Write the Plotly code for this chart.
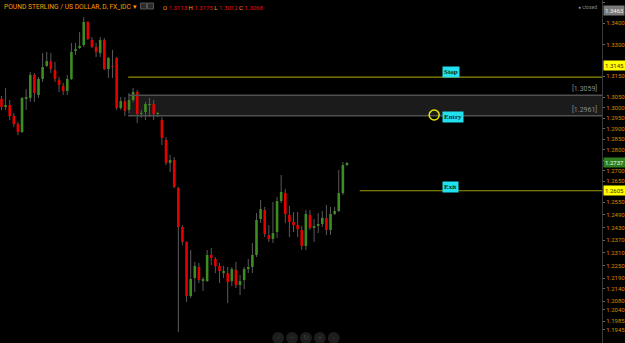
import plotly.graph_objects as go

# ---------------- data ----------------
opens = [1.3041,1.3003,1.3012,1.2960,1.2922,1.2884,1.3041,1.3046,1.3155,1.3060,
 1.3136,1.3198,1.3221,1.3179,1.3131,1.3103,1.3079,1.3136,1.3269,1.3283,
 1.3297,1.3407,1.3321,1.3288,1.3259,1.3321,1.3183,1.3198,1.3236,1.2998,
 1.3031,1.2989,1.3036,1.3074,1.2970,1.2979,1.3012,1.3017,1.2970,1.2941,
 1.2846,1.2737,1.2751,1.2618,1.2433,1.2362,1.2105,1.2191,1.2243,1.2176,
 1.2176,1.2300,1.2281,1.2248,1.2214,1.2214,1.2176,1.2229,1.2157,1.2181,
 1.2233,1.2243,1.2300,1.2471,1.2514,1.2395,1.2376,1.2409,1.2556,1.2594,
 1.2490,1.2457,1.2442,1.2419,1.2343,1.2490,1.2428,1.2438,1.2447,1.2476,
 1.2419,1.2495,1.2509,1.2594,1.2727]
highs = [1.3055,1.3093,1.3036,1.2974,1.2932,1.3050,1.3088,1.3169,1.3164,1.3145,
 1.3259,1.3264,1.3259,1.3217,1.3145,1.3117,1.3155,1.3307,1.3307,1.3359,
 1.3430,1.3410,1.3335,1.3307,1.3335,1.3331,1.3240,1.3274,1.3240,1.3050,
 1.3050,1.3069,1.3093,1.3084,1.2989,1.3027,1.3046,1.3036,1.2979,1.2955,
 1.2860,1.2775,1.2765,1.2623,1.2442,1.2365,1.2324,1.2267,1.2262,1.2195,
 1.2324,1.2333,1.2290,1.2262,1.2248,1.2243,1.2243,1.2267,1.2205,1.2243,
 1.2281,1.2357,1.2499,1.2561,1.2528,1.2442,1.2552,1.2575,1.2680,1.2613,
 1.2533,1.2504,1.2504,1.2438,1.2514,1.2514,1.2471,1.2499,1.2509,1.2537,
 1.2528,1.2528,1.2704,1.2742,1.2742]
lows = [1.2989,1.2989,1.2941,1.2908,1.2870,1.2879,1.2989,1.3027,1.3027,1.3046,
 1.3122,1.3193,1.3164,1.3122,1.3074,1.3060,1.3060,1.3131,1.3250,1.3278,
 1.3288,1.3321,1.3283,1.3240,1.3240,1.3179,1.3141,1.3141,1.2989,1.2989,
 1.2960,1.2974,1.3027,1.2927,1.2951,1.2941,1.2955,1.2941,1.2955,1.2822,
 1.2727,1.2694,1.2618,1.1934,1.2347,1.2077,1.2096,1.2124,1.2167,1.2129,
 1.2172,1.2252,1.2214,1.2167,1.2191,1.2072,1.2153,1.2143,1.2110,1.2138,
 1.2214,1.2214,1.2290,1.2452,1.2385,1.2362,1.2357,1.2381,1.2547,1.2452,
 1.2385,1.2409,1.2385,1.2324,1.2324,1.2419,1.2362,1.2404,1.2433,1.2395,
 1.2395,1.2490,1.2504,1.2585,1.2723]
closes = [1.3003,1.3012,1.2960,1.2922,1.2884,1.3046,1.3050,1.3155,1.3069,1.3136,
 1.3193,1.3221,1.3183,1.3136,1.3107,1.3079,1.3136,1.3264,1.3278,1.3293,
 1.3407,1.3326,1.3288,1.3264,1.3321,1.3183,1.3236,1.3193,1.2998,1.3031,
 1.2984,1.3036,1.3074,1.2970,1.2974,1.3017,1.3017,1.2970,1.2974,1.2856,
 1.2737,1.2751,1.2623,1.2433,1.2362,1.2105,1.2186,1.2248,1.2181,1.2186,
 1.2300,1.2286,1.2248,1.2224,1.2224,1.2172,1.2233,1.2157,1.2176,1.2233,
 1.2243,1.2300,1.2466,1.2518,1.2400,1.2376,1.2404,1.2556,1.2599,1.2495,
 1.2457,1.2442,1.2423,1.2343,1.2495,1.2428,1.2438,1.2447,1.2476,1.2419,
 1.2495,1.2509,1.2594,1.2727,1.2737]

tick_labels = ["1.3500","1.3400","1.3300","1.3150","1.3050","1.3000","1.2950",
               "1.2900","1.2850","1.2800","1.2750","1.2700","1.2650","1.2550",
               "1.2490","1.2430","1.2370","1.2310","1.2250","1.2190","1.2140",
               "1.2080","1.2040","1.1985","1.1945"]

stop_level = 1.3145
zone_top = 1.3059
zone_bottom = 1.2961
exit_level = 1.2605
last_price = 1.2737
level_start = 30.8      # candle index where stop / entry zone start
exit_start = 87.1       # candle index where exit line starts
label_x = 107.1
entry_marker = (105.2, 1.2965)

title = "POUND STERLING / US DOLLAR, D, FX_IDC \u25BE"
ohlc = [("O", "1.3113"), ("H", "1.3175"), ("L", "1.3012"), ("C", "1.3068")]

# ---------------- figure ----------------
n = len(opens)
xs = list(range(n))
X_RANGE = [-0.36, 146.0]
Y_RANGE = [1.1882, 1.3511]

GREEN = "#3d8c22"
RED = "#e60000"
OLIVE = "#8f8f00"
MIN_BODY = 0.0005

wx, wy = [], []
gx, gy, rx, ry = [], [], [], []
for i in xs:
    o, h, l, c = opens[i], highs[i], lows[i], closes[i]
    wx += [i, i, None]
    wy += [l, h, None]
    lo, hi = min(o, c), max(o, c)
    if hi - lo < MIN_BODY:
        mid = (hi + lo) / 2
        lo, hi = mid - MIN_BODY / 2, mid + MIN_BODY / 2
    if c >= o:
        gx += [i, i, None]; gy += [lo, hi, None]
    else:
        rx += [i, i, None]; ry += [lo, hi, None]

fig = go.Figure()
fig.add_trace(go.Scatter(x=wx, y=wy, mode="lines", line=dict(color="#5a5a5a", width=1),
                         hoverinfo="skip", showlegend=False))
fig.add_trace(go.Scatter(x=gx, y=gy, mode="lines", line=dict(color=GREEN, width=2.6),
                         hoverinfo="skip", showlegend=False))
fig.add_trace(go.Scatter(x=rx, y=ry, mode="lines", line=dict(color=RED, width=2.6),
                         hoverinfo="skip", showlegend=False))

shapes = []
# entry zone
shapes.append(dict(type="rect", xref="x", yref="y", x0=level_start, x1=X_RANGE[1],
                   y0=zone_bottom, y1=zone_top, fillcolor="#1b1b1b",
                   line=dict(width=0), layer="below"))
for lv in (zone_top, zone_bottom):
    shapes.append(dict(type="line", xref="x", yref="y", x0=level_start, x1=X_RANGE[1],
                       y0=lv, y1=lv, line=dict(color="#505050", width=1.5)))
# stop / exit lines
shapes.append(dict(type="line", xref="x", yref="y", x0=level_start, x1=X_RANGE[1],
                   y0=stop_level, y1=stop_level, line=dict(color=OLIVE, width=1.2)))
shapes.append(dict(type="line", xref="x", yref="y", x0=exit_start, x1=X_RANGE[1],
                   y0=exit_level, y1=exit_level, line=dict(color="#9a9a10", width=1.2)))
# entry circle
shapes.append(dict(type="circle", xref="x", yref="y", xsizemode="pixel", ysizemode="pixel",
                   xanchor=entry_marker[0], yanchor=entry_marker[1],
                   x0=-5, x1=5, y0=-5, y1=5, line=dict(color="#e6e600", width=1.5)))
# navigation buttons at bottom
nav_glyphs = ["\u2039", "\u2212", "\u21BB", "+", "\u203A"]
nav_px = [280, 294, 308, 322, 336]
for px in nav_px:
    shapes.append(dict(type="circle", xref="paper", yref="paper", xsizemode="pixel",
                       ysizemode="pixel", xanchor=px / 606, yanchor=(343 - 338) / 343,
                       x0=-6, x1=6, y0=-6, y1=6, fillcolor="#1d1d1d",
                       line=dict(width=0)))
# small icons in the title bar
for px in (144.5, 151.5):
    shapes.append(dict(type="rect", xref="paper", yref="paper", xsizemode="pixel",
                       ysizemode="pixel", xanchor=px / 606, yanchor=(343 - 6) / 343,
                       x0=-3, x1=3, y0=-3, y1=3, fillcolor="#2a2a2a",
                       line=dict(color="#555555", width=1)))

ann = []
lab_font = dict(family="Liberation Serif, DejaVu Serif", size=7, color="#062a2a")
for txt, yv in (("<b>Stop</b>", 1.3169), ("<b>Entry</b>", 1.2955), ("<b>Exit</b>", 1.2625)):
    ann.append(dict(x=label_x, y=yv, xref="x", yref="y", text=txt, showarrow=False,
                    xanchor="left", yanchor="middle", bgcolor="#22e0ee",
                    borderpad=1, font=lab_font))
for lv in (zone_top, zone_bottom):
    ann.append(dict(x=0.995, y=lv, xref="paper", yref="y", text="[%.4f]" % lv,
                    showarrow=False, xanchor="right", yanchor="bottom", yshift=0,
                    font=dict(family="Roboto", size=7, color="#8a8a8a")))

# title & OHLC
ann.append(dict(x=0.004, y=1, xref="paper", yref="paper", text=title, showarrow=False,
                xanchor="left", yanchor="top", yshift=-1,
                font=dict(family="Liberation Sans Narrow, Roboto", size=6.7, color="#ff9a00")))
ohlc_txt = " ".join("<span style='color:#ff9a00'>%s</span> <span style='color:#e01010'>%s</span>" % (k, v)
                    for k, v in ohlc)
ann.append(dict(x=162 / 606, y=1, xref="paper", yref="paper", text=ohlc_txt, showarrow=False,
                xanchor="left", yanchor="top", yshift=-2,
                font=dict(family="Liberation Sans Narrow, Roboto", size=6, color="#e01010")))
ann.append(dict(x=0.995, y=1, xref="paper", yref="paper", text="\u25CF closed", showarrow=False,
                xanchor="right", yanchor="top", yshift=-2,
                font=dict(family="Roboto", size=5, color="#888888")))

# highlighted price labels on the axis
def axis_tag(y, text, bg, fg):
    ann.append(dict(x=1.0, y=y, xref="paper", yref="y", text=text, showarrow=False,
                    xanchor="left", yanchor="middle", xshift=1, bgcolor=bg, borderpad=1,
                    font=dict(family="Roboto", size=6, color=fg)))

axis_tag(1.3459, "1.3463", "#7a7a7a", "#eeeeee")
axis_tag(1.3198, "1.3145", "#ffff00", "#333300")
axis_tag(last_price, "%.4f" % last_price, "#2f7d1c", "#e8ffe0")
axis_tag(exit_level, "%.4f" % exit_level, "#ffff00", "#333300")

for px, g in zip(nav_px, nav_glyphs):
    ann.append(dict(x=px / 606, y=(343 - 338) / 343, xref="paper", yref="paper", text=g,
                    showarrow=False, xanchor="center", yanchor="middle",
                    font=dict(family="DejaVu Sans", size=7, color="#3c3c3c")))

fig.update_layout(
    width=625, height=343,
    margin=dict(l=0, r=19, t=0, b=0),
    paper_bgcolor="#000000", plot_bgcolor="#000000",
    showlegend=False,
    shapes=shapes, annotations=ann,
    xaxis=dict(range=X_RANGE, showgrid=False, zeroline=False, showticklabels=False,
               showline=False, fixedrange=True),
    yaxis=dict(range=Y_RANGE, side="right", showgrid=False, zeroline=False,
               tickvals=[float(t) for t in tick_labels], ticktext=tick_labels,
               ticks="outside", ticklen=2, tickcolor="#666666",
               showline=True, linecolor="#3a3a3a", linewidth=1,
               tickfont=dict(family="Roboto", size=6, color="#d88a00"),
               fixedrange=True),
)

fig.write_html("out.html", config={"displayModeBar": False})
